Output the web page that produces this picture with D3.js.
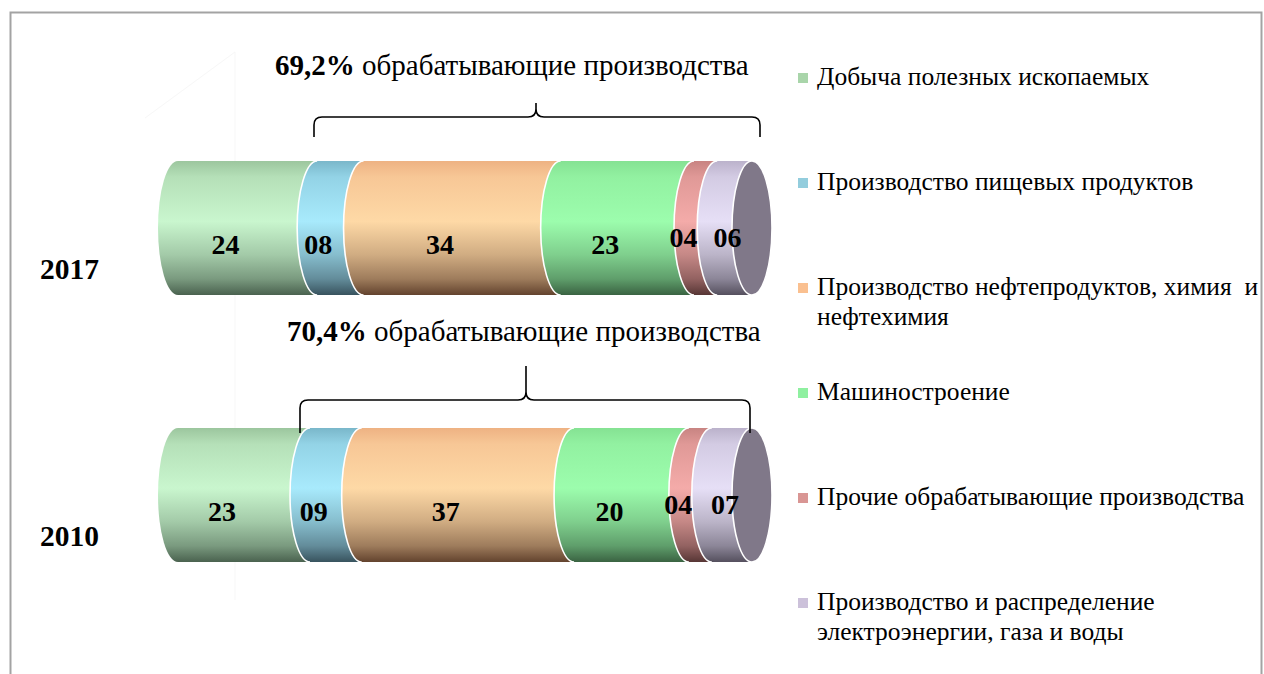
<!DOCTYPE html>
<html>
<head>
<meta charset="utf-8">
<script src="https://cdn.jsdelivr.net/npm/d3@7"></script>
<style>
  body { margin: 0; background: #fff; }
  svg { display: block; font-family: "Liberation Serif", "Times New Roman", serif; }
</style>
</head>
<body>
<svg id="chart" width="1264" height="674"></svg>
<script>
// ---- data ----
const years = ["2017", "2010"];
const sectors = [
  "Добыча полезных ископаемых",
  "Производство пищевых продуктов",
  "Производство нефтепродуктов, химия  и нефтехимия",
  "Машиностроение",
  "Прочие обрабатывающие производства",
  "Производство и распределение электроэнергии, газа и воды"
];
const values2017 = [24, 8, 34, 23, 4, 6];
const values2010 = [23, 9, 37, 20, 4, 7];
const manufacturingShare = ["69,2%", "70,4%"];
const manufacturingText = "обрабатывающие производства";
// legend text split into rendered lines
const legendLines = [
  ["Добыча полезных ископаемых"],
  ["Производство пищевых продуктов"],
  ["Производство нефтепродуктов, химия  и", "нефтехимия"],
  ["Машиностроение"],
  ["Прочие обрабатывающие производства"],
  ["Производство и распределение", "электроэнергии, газа и воды"]
];

// ---- styles ----
const legendColors = ["#a9d5aa", "#93cddd", "#fac090", "#8ff0a0", "#d99694", "#ccc1da"];
const shades = [
  { top: "#9cc69e", light: "#c9f6ce", dark: "#4a624f" },
  { top: "#7ab7ca", light: "#a8eafc", dark: "#38535e" },
  { top: "#eeb283", light: "#fed9a6", dark: "#63432e" },
  { top: "#85e293", light: "#9cfdad", dark: "#3a6342" },
  { top: "#c88482", light: "#f4aba9", dark: "#573635" },
  { top: "#bbb2cb", light: "#e6dff6", dark: "#55505e" }
];
const capColor = "#807889";

const rows = [values2017, values2010];
const svg = d3.select("#chart");

// ---- frame ----
svg.append("rect")
  .attr("x", 10.5).attr("y", 12.5)
  .attr("width", 1251).attr("height", 720)
  .attr("fill", "none").attr("stroke", "#a3a3a3").attr("stroke-width", 2);

// faint 3D walls
const walls = svg.append("g").attr("stroke", "#f7f7f7").attr("stroke-width", 1).attr("fill", "none");
walls.append("line").attr("x1", 235).attr("y1", 52).attr("x2", 235).attr("y2", 600);
walls.append("line").attr("x1", 235).attr("y1", 52).attr("x2", 145).attr("y2", 118);

// ---- scales ----
const x = d3.scaleLinear().domain([0, 100]).range([178, 752]);
const y = d3.scalePoint().domain(years).range([228, 495]);
const halfH = 67;   // half of cylinder height
const rx = 20;      // horizontal radius of the cylinder ellipses

// ---- gradients ----
const defs = svg.append("defs");
shades.forEach((s, i) => {
  const g = defs.append("linearGradient")
    .attr("id", "grad" + i).attr("x1", 0).attr("y1", 0).attr("x2", 0).attr("y2", 1);
  const mix = d3.interpolateRgb(s.light, s.dark);
  [[0, s.top], [0.12, d3.interpolateRgb(s.top, s.light)(0.55)], [0.45, s.light],
   [0.7, mix(0.3)], [0.88, mix(0.62)], [1, s.dark]]
    .forEach(([o, c]) => g.append("stop").attr("offset", o).attr("stop-color", c));
});

// ---- cylinders ----
rows.forEach((vals, r) => {
  const total = d3.sum(vals);
  const cy = y(years[r]);
  const top = cy - halfH, bot = cy + halfH;
  let acc = 0;
  const segs = vals.map((v, i) => {
    const a = acc / total * 100;
    acc += v;
    const b = acc / total * 100;
    return { v, i, a, b };
  });
  const g = svg.append("g");
  segs.forEach(s => {
    const xa = x(s.a), xb = x(s.b);
    g.append("path")
      .attr("d", `M${xa},${top} L${xb},${top} A${rx},${halfH} 0 0 1 ${xb},${bot} L${xa},${bot} A${rx},${halfH} 0 0 1 ${xa},${top} Z`)
      .attr("fill", `url(#grad${s.i})`);
    if (s.i > 0) {
      g.append("path")
        .attr("d", `M${xa},${bot} A${rx},${halfH} 0 0 1 ${xa},${top}`)
        .attr("fill", "none").attr("stroke", "#fff").attr("stroke-width", 1.6);
    }
  });
  // right end cap
  g.append("ellipse")
    .attr("cx", x(100)).attr("cy", cy).attr("rx", rx).attr("ry", halfH)
    .attr("fill", capColor).attr("stroke", "#fff").attr("stroke-width", 1.6);

  // value labels
  const last = segs.length - 1;
  g.selectAll("text.val").data(segs).join("text")
    .attr("class", "val")
    .attr("x", s => x((s.a + s.b) / 2) + (s.i === last ? -rx * 0.35 : -rx - 2))
    .attr("y", s => cy + (s.v <= 7 ? 19 : 26))
    .attr("text-anchor", "middle")
    .attr("font-size", 28).attr("font-weight", "bold").attr("fill", "#000")
    .text(s => d3.format("02d")(s.v));

  // category label
  svg.append("text")
    .attr("x", 40).attr("y", cy + 51)
    .attr("font-size", 29.5).attr("font-weight", "bold")
    .text(years[r]);
});

// ---- manufacturing braces ----
const braces = [
  { text: { x: 275, y: 75 }, x0: 314, x1: 760, tip: 536, yh: 117, ytip: 103, yend: 137 },
  { text: { x: 287, y: 341 }, x0: 300, x1: 750, tip: 526, yh: 400, ytip: 366, yend: 433 }
];
braces.forEach((b, r) => {
  const t = svg.append("text")
    .attr("x", b.text.x).attr("y", b.text.y)
    .attr("font-size", 29).attr("fill", "#000");
  t.append("tspan").attr("font-weight", "bold").text(manufacturingShare[r]);
  t.append("tspan").text(" " + manufacturingText);
  const k = 8;
  const p = d3.path();
  p.moveTo(b.x0, b.yend);
  p.lineTo(b.x0, b.yh + k);
  p.quadraticCurveTo(b.x0, b.yh, b.x0 + k, b.yh);
  p.lineTo(b.tip - k, b.yh);
  p.quadraticCurveTo(b.tip, b.yh, b.tip, b.yh - k);
  p.lineTo(b.tip, b.ytip);
  p.moveTo(b.tip, b.yh - k);
  p.quadraticCurveTo(b.tip, b.yh, b.tip + k, b.yh);
  p.lineTo(b.x1 - k, b.yh);
  p.quadraticCurveTo(b.x1, b.yh, b.x1, b.yh + k);
  p.lineTo(b.x1, b.yend);
  svg.append("path").attr("d", p.toString())
    .attr("fill", "none").attr("stroke", "#000").attr("stroke-width", 1.6);
});

// ---- legend ----
const legend = svg.append("g").attr("transform", "translate(798,0)");
sectors.forEach((name, i) => {
  const base = 85 + i * 105;
  legend.append("rect")
    .attr("x", 0).attr("y", base - 12).attr("width", 10).attr("height", 10)
    .attr("fill", legendColors[i]);
  const t = legend.append("text")
    .attr("x", 19).attr("y", base)
    .attr("font-size", 25.5).attr("fill", "#000")
    .style("white-space", "pre");
  legendLines[i].forEach((line, j) => {
    t.append("tspan").attr("x", 19).attr("dy", j === 0 ? 0 : 30).text(line);
  });
});
</script>
</body>
</html>
